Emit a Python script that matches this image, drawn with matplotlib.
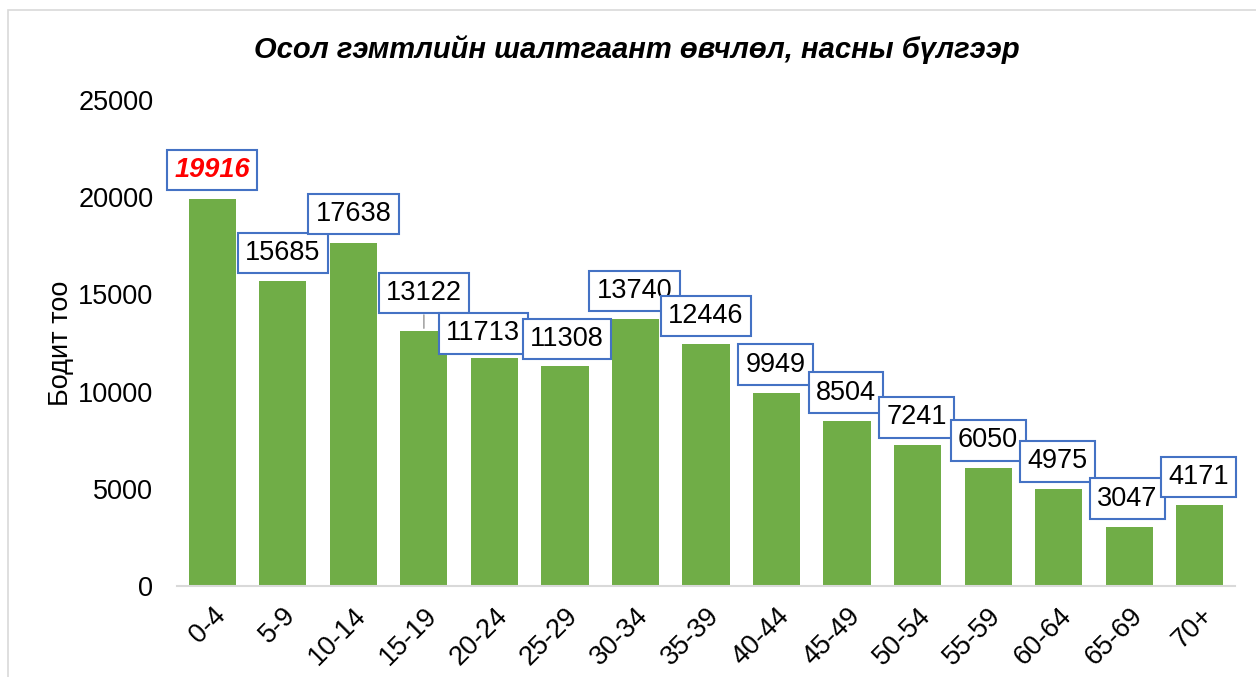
import matplotlib.pyplot as plt
from matplotlib.patches import Rectangle

plt.rcParams['font.family'] = ['Liberation Sans', 'DejaVu Sans']

# Насны бүлэг ба бодит тоо
age_groups = ['0-4', '5-9', '10-14', '15-19', '20-24', '25-29', '30-34', '35-39',
              '40-44', '45-49', '50-54', '55-59', '60-64', '65-69', '70+']
counts = [19916, 15685, 17638, 13122, 11713, 11308, 13740, 12446,
          9949, 8504, 7241, 6050, 4975, 3047, 4171]
y_ticks = [0, 5000, 10000, 15000, 20000, 25000]

# шошгын байрлалын шилжилт (пиксел)
lbl_dx = [0, 0, 0, 0, -11, 2, -1, 0, -1, -1, -1, 0, -1, -2, -1]
lbl_dy = [29, 28, 29, 38, 25, 27, 28, 28, 28, 28, 28, 28, 28, 28, 28]

FS = 19.5

fig = plt.figure(figsize=(12.56, 6.77), dpi=100)
fig.patches.append(Rectangle((8 / 1256, -0.1), 1.2, 1 - 10 / 677 + 0.1,
                             transform=fig.transFigure, fill=False,
                             edgecolor='#d9d9d9', linewidth=1.2))
ax = fig.add_axes([177 / 1256, 1 - 586 / 677, (1235 - 177) / 1256, (586 - 100) / 677])

x = list(range(len(counts)))
ax.bar(x, counts, width=0.67, color='#70AD47', zorder=2)
ax.set_xlim(-0.5, len(counts) - 0.5)
ax.set_ylim(0, 25000)
ax.set_yticks(y_ticks)
ax.set_yticklabels([str(t) for t in y_ticks], fontsize=FS)
ax.set_xticks(x)
ax.set_xticklabels(age_groups, fontsize=FS, rotation=45, ha='right',
                   rotation_mode='anchor')
ax.tick_params(axis='both', length=0)
ax.tick_params(axis='y', pad=17)
ax.tick_params(axis='x', pad=12)
for s in ['top', 'right', 'left']:
    ax.spines[s].set_visible(False)
ax.spines['bottom'].set_color('#d9d9d9')
ax.spines['bottom'].set_linewidth(1.5)

ax.set_ylabel('Бодит тоо', fontsize=FS, labelpad=3)

for i, v in enumerate(counts):
    if i == 0:
        kw = dict(color='red', fontweight='bold', fontstyle='italic')
    else:
        kw = dict(color='black')
    ax.annotate(str(v), (i, v), xytext=(lbl_dx[i], lbl_dy[i]),
                textcoords='offset pixels', ha='center', va='center',
                fontsize=FS, zorder=5,
                bbox=dict(boxstyle='square,pad=0.27', fc='white',
                          ec='#4472C4', lw=1.5), **kw)

# 15-19 шошгын холбох шугам
ax.annotate('', (3, counts[3]), xytext=(3, counts[3] + 960),
            arrowprops=dict(arrowstyle='-', color='#a6a6a6', lw=1.2), zorder=1)

fig.text(637 / 1256, 1 - 50 / 677, 'Осол гэмтлийн шалтгаант өвчлөл, насны бүлгээр',
         ha='center', va='center', fontsize=21, fontweight='bold', fontstyle='italic')

fig.savefig('out.png', dpi=100)
